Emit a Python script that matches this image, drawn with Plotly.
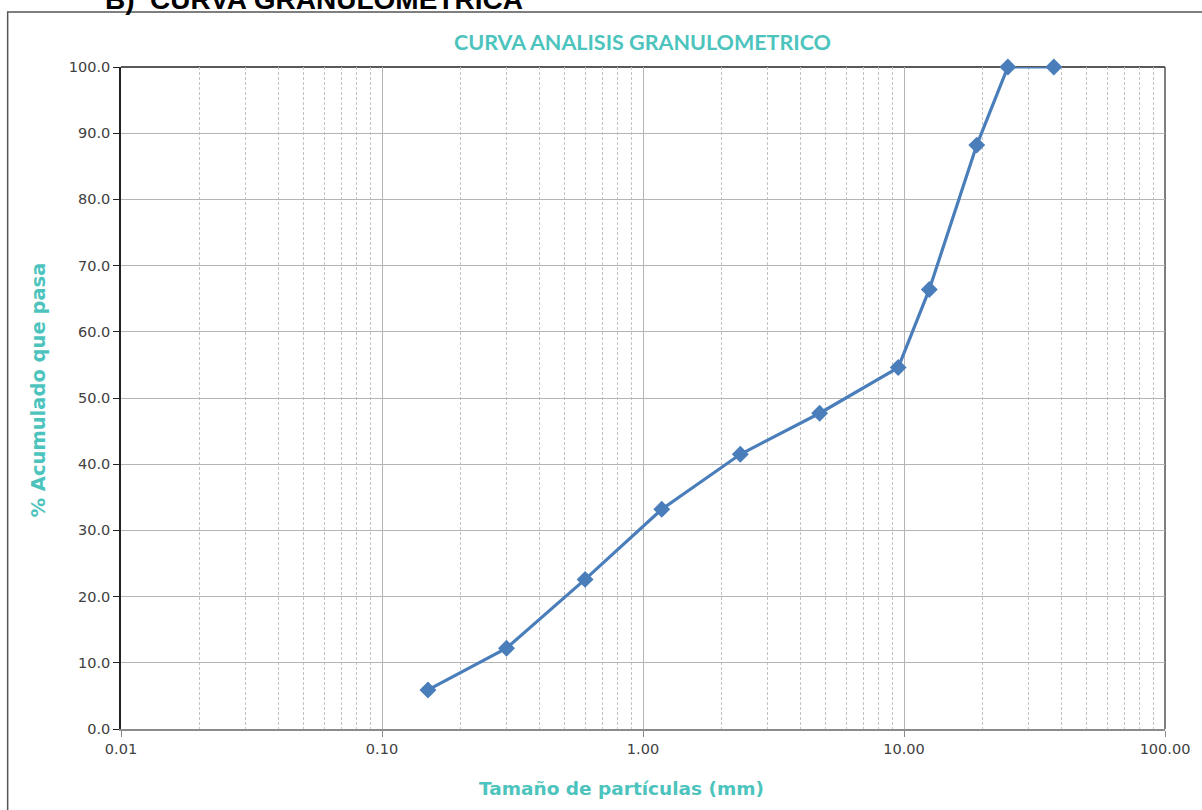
import plotly.graph_objects as go

# Sieve opening (mm) and cumulative percent passing
tamano_mm = [0.15, 0.30, 0.60, 1.18, 2.36, 4.75, 9.50, 12.50, 19.00, 25.00, 37.50]
pct_pasa = [5.9, 12.2, 22.6, 33.2, 41.5, 47.7, 54.6, 66.4, 88.2, 100.0, 100.0]

x_ticks = [0.01, 0.1, 1, 10, 100]
x_tick_labels = ["0.01", "0.10", "1.00", "10.00", "100.00"]
y_ticks = [0, 10, 20, 30, 40, 50, 60, 70, 80, 90, 100]
y_tick_labels = [f"{v:.1f}" for v in y_ticks]

teal = "#4cc4bd"
blue = "#4a7ebb"

PW, PH = 1050, 662  # plot area size in px


def px_x(px):
    return (px - 121) / PW


def px_y(py):
    return (67 + PH - py) / PH


fig = go.Figure()

fig.add_trace(go.Scatter(
    x=tamano_mm, y=pct_pasa, mode="lines+markers",
    line=dict(color=blue, width=3.2),
    marker=dict(symbol="diamond", size=13, color=blue),
    cliponaxis=False, showlegend=False,
))

fig.update_layout(
    width=1202, height=810,
    margin=dict(l=121, r=31, t=67, b=81),
    paper_bgcolor="white", plot_bgcolor="white",
    font=dict(family="DejaVu Sans", color="#404040", size=14),
    title=dict(
        text="<b>CURVA ANALISIS GRANULOMETRICO</b>",
        font=dict(family="Lato", size=21.5, color=teal),
        x=0.5345, xanchor="center", y=0.947, yanchor="middle",
    ),
    xaxis=dict(
        type="log", range=[-2, 2],
        tickvals=x_ticks, ticktext=x_tick_labels,
        showgrid=True, gridcolor="#b4b4b4", gridwidth=1,
        minor=dict(dtick="D1", showgrid=True, gridcolor="#c4c4c4",
                   griddash="3px,2px", gridwidth=1, ticks=""),
        showline=True, linecolor="#8c8c8c", linewidth=1.5,
        ticks="outside", ticklen=6, tickcolor="#8c8c8c",
        tickfont=dict(family="DejaVu Sans", size=14.5, color="#404040"),
        zeroline=False,
    ),
    yaxis=dict(
        range=[0, 100],
        tickvals=y_ticks, ticktext=y_tick_labels,
        showgrid=True, gridcolor="#b4b4b4", gridwidth=1,
        showline=True, linecolor="#222222", linewidth=1.5,
        ticks="outside", ticklen=6, tickcolor="#222222",
        tickfont=dict(family="DejaVu Sans", size=14.5, color="#404040"),
        zeroline=False,
    ),
    shapes=[
        # plot frame top and right
        dict(type="line", xref="paper", yref="paper", x0=0, x1=1, y0=1, y1=1,
             line=dict(color="#222222", width=1.5), layer="below"),
        dict(type="line", xref="paper", yref="paper", x0=1, x1=1, y0=0, y1=1,
             line=dict(color="#555555", width=1.5), layer="below"),
        # outer chart border
        dict(type="rect", xref="paper", yref="paper",
             x0=px_x(7), x1=px_x(1260), y0=px_y(860), y1=px_y(12),
             line=dict(color="#555555", width=1.5), layer="below"),
    ],
    annotations=[
        dict(text="<b>B)  CURVA GRANULOMETRICA</b>", xref="paper", yref="paper",
             x=px_x(103), y=px_y(17), xanchor="left", yanchor="bottom",
             showarrow=False,
             font=dict(family="Liberation Sans", size=28, color="black")),
        dict(text="<b>Tamaño de partículas (mm)</b>", xref="paper", yref="paper",
             x=px_x(624), y=px_y(788), xanchor="center", yanchor="middle",
             showarrow=False,
             font=dict(family="DejaVu Sans", size=18.5, color=teal)),
        dict(text="<b>% Acumulado que pasa</b>", xref="paper", yref="paper",
             x=px_x(38), y=px_y(390), xanchor="center", yanchor="middle",
             textangle=-90, showarrow=False,
             font=dict(family="DejaVu Sans", size=19.5, color=teal)),
    ],
)

fig.write_html("out.html")
